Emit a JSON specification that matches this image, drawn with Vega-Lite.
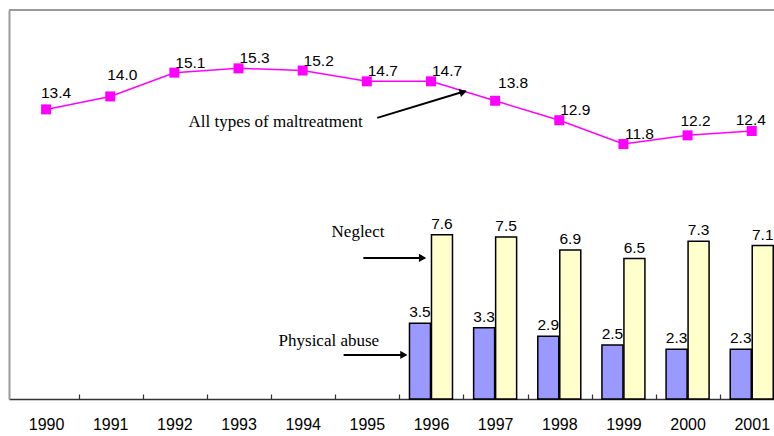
{
  "$schema": "https://vega.github.io/schema/vega-lite/v6.json",
  "width": 765,
  "height": 389,
  "autosize": {"type": "none"},
  "padding": {"left": 9, "top": 10, "right": 0, "bottom": 37},
  "background": "white",
  "config": {"view": {"stroke": null}},
  "datasets": {
    "main": [
      {"year": 1990, "all": 13.4, "physical": null, "neglect": null},
      {"year": 1991, "all": 14.0, "physical": null, "neglect": null},
      {"year": 1992, "all": 15.1, "physical": null, "neglect": null},
      {"year": 1993, "all": 15.3, "physical": null, "neglect": null},
      {"year": 1994, "all": 15.2, "physical": null, "neglect": null},
      {"year": 1995, "all": 14.7, "physical": null, "neglect": null},
      {"year": 1996, "all": 14.7, "physical": 3.5, "neglect": 7.6},
      {"year": 1997, "all": 13.8, "physical": 3.3, "neglect": 7.5},
      {"year": 1998, "all": 12.9, "physical": 2.9, "neglect": 6.9},
      {"year": 1999, "all": 11.8, "physical": 2.5, "neglect": 6.5},
      {"year": 2000, "all": 12.2, "physical": 2.3, "neglect": 7.3},
      {"year": 2001, "all": 12.4, "physical": 2.3, "neglect": 7.1}
    ],
    "frame": [{"top": 18}],
    "notes": [
      {"label": "All types of maltreatment", "x": 1993.577, "y": 12.59},
      {"label": "Neglect", "x": 1994.862, "y": 7.5},
      {"label": "Physical abuse", "x": 1994.408, "y": 2.45}
    ],
    "arrows": [
      {"x": 1995.162, "y": 13.01, "x2": 1996.54, "y2": 14.25},
      {"x": 1994.946, "y": 6.53, "x2": 1995.9, "y2": 6.53},
      {"x": 1994.638, "y": 2.04, "x2": 1995.6, "y2": 2.04}
    ],
    "heads_flat": [
      {"x": 1995.869, "y": 6.53},
      {"x": 1995.577, "y": 2.04}
    ],
    "heads_slant": [
      {"x": 1996.503, "y": 14.21}
    ]
  },
  "layer": [
    {
      "data": {"name": "main"},
      "transform": [{"filter": "datum.physical != null"}],
      "mark": {"type": "bar", "width": 21, "xOffset": -11, "fill": "#9999FF", "stroke": "black", "strokeWidth": 1.5},
      "encoding": {
        "x": {
          "field": "year",
          "type": "quantitative",
          "scale": {"domain": [1989.5, 2001.2692], "nice": false, "zero": false},
          "axis": {
            "title": null,
            "values": [1990, 1991, 1992, 1993, 1994, 1995, 1996, 1997, 1998, 1999, 2000, 2001],
            "format": "d",
            "tickOffset": 32.5,
            "labelOffset": -32.5,
            "tickSize": -5,
            "tickColor": "#333333",
            "tickWidth": 1.2,
            "domainColor": "#333333",
            "domainWidth": 1.5,
            "labelPadding": 22,
            "labelFont": "Liberation Sans",
            "labelFontSize": 16,
            "labelColor": "black",
            "labelFlush": false,
            "labelOverlap": false,
            "grid": false
          }
        },
        "y": {
          "field": "physical",
          "type": "quantitative",
          "scale": {"domain": [0, 18], "nice": false, "zero": true},
          "axis": {"title": null, "labels": false, "ticks": false, "grid": false, "domainColor": "#9a9a9a", "domainWidth": 2}
        }
      }
    },
    {
      "data": {"name": "frame"},
      "mark": {"type": "rule", "color": "#9a9a9a", "strokeWidth": 2},
      "encoding": {
        "y": {"field": "top", "type": "quantitative"}
      }
    },
    {
      "data": {"name": "main"},
      "transform": [{"filter": "datum.neglect != null"}],
      "mark": {"type": "bar", "width": 21, "xOffset": 11, "fill": "#FFFFCC", "stroke": "black", "strokeWidth": 1.5},
      "encoding": {
        "x": {"field": "year", "type": "quantitative"},
        "y": {"field": "neglect", "type": "quantitative"}
      }
    },
    {
      "data": {"name": "main"},
      "transform": [{"filter": "datum.physical != null"}],
      "mark": {"type": "text", "xOffset": -11, "dy": -6, "baseline": "alphabetic", "font": "Liberation Sans", "fontSize": 15.5, "color": "black"},
      "encoding": {
        "x": {"field": "year", "type": "quantitative"},
        "y": {"field": "physical", "type": "quantitative"},
        "text": {"field": "physical", "type": "quantitative", "format": ".1f"}
      }
    },
    {
      "data": {"name": "main"},
      "transform": [{"filter": "datum.neglect != null"}],
      "mark": {"type": "text", "xOffset": 11, "dy": -6, "baseline": "alphabetic", "font": "Liberation Sans", "fontSize": 15.5, "color": "black"},
      "encoding": {
        "x": {"field": "year", "type": "quantitative"},
        "y": {"field": "neglect", "type": "quantitative"},
        "text": {"field": "neglect", "type": "quantitative", "format": ".1f"}
      }
    },
    {
      "data": {"name": "main"},
      "mark": {"type": "line", "color": "#FF00FF", "strokeWidth": 1.5},
      "encoding": {
        "x": {"field": "year", "type": "quantitative"},
        "y": {"field": "all", "type": "quantitative"}
      }
    },
    {
      "data": {"name": "main"},
      "mark": {"type": "point", "shape": "square", "filled": true, "size": 100, "color": "#FF00FF", "opacity": 1},
      "encoding": {
        "x": {"field": "year", "type": "quantitative"},
        "y": {"field": "all", "type": "quantitative"}
      }
    },
    {
      "data": {"name": "main"},
      "transform": [{"filter": {"field": "year", "oneOf": [1992, 1993, 1994, 1995, 1996, 1998, 1999]}}],
      "mark": {"type": "text", "dx": 16, "dy": -5, "baseline": "alphabetic", "font": "Liberation Sans", "fontSize": 15.5, "color": "black"},
      "encoding": {
        "x": {"field": "year", "type": "quantitative"},
        "y": {"field": "all", "type": "quantitative"},
        "text": {"field": "all", "type": "quantitative", "format": ".1f"}
      }
    },
    {
      "data": {"name": "main"},
      "transform": [{"filter": {"field": "year", "oneOf": [1990]}}],
      "mark": {"type": "text", "dx": 10, "dy": -11, "baseline": "alphabetic", "font": "Liberation Sans", "fontSize": 15.5, "color": "black"},
      "encoding": {
        "x": {"field": "year", "type": "quantitative"},
        "y": {"field": "all", "type": "quantitative"},
        "text": {"field": "all", "type": "quantitative", "format": ".1f"}
      }
    },
    {
      "data": {"name": "main"},
      "transform": [{"filter": {"field": "year", "oneOf": [1991]}}],
      "mark": {"type": "text", "dx": 12, "dy": -16, "baseline": "alphabetic", "font": "Liberation Sans", "fontSize": 15.5, "color": "black"},
      "encoding": {
        "x": {"field": "year", "type": "quantitative"},
        "y": {"field": "all", "type": "quantitative"},
        "text": {"field": "all", "type": "quantitative", "format": ".1f"}
      }
    },
    {
      "data": {"name": "main"},
      "transform": [{"filter": {"field": "year", "oneOf": [1997]}}],
      "mark": {"type": "text", "dx": 18, "dy": -13, "baseline": "alphabetic", "font": "Liberation Sans", "fontSize": 15.5, "color": "black"},
      "encoding": {
        "x": {"field": "year", "type": "quantitative"},
        "y": {"field": "all", "type": "quantitative"},
        "text": {"field": "all", "type": "quantitative", "format": ".1f"}
      }
    },
    {
      "data": {"name": "main"},
      "transform": [{"filter": {"field": "year", "oneOf": [2000]}}],
      "mark": {"type": "text", "dx": 8, "dy": -9, "baseline": "alphabetic", "font": "Liberation Sans", "fontSize": 15.5, "color": "black"},
      "encoding": {
        "x": {"field": "year", "type": "quantitative"},
        "y": {"field": "all", "type": "quantitative"},
        "text": {"field": "all", "type": "quantitative", "format": ".1f"}
      }
    },
    {
      "data": {"name": "main"},
      "transform": [{"filter": {"field": "year", "oneOf": [2001]}}],
      "mark": {"type": "text", "dx": -1, "dy": -6, "baseline": "alphabetic", "font": "Liberation Sans", "fontSize": 15.5, "color": "black"},
      "encoding": {
        "x": {"field": "year", "type": "quantitative"},
        "y": {"field": "all", "type": "quantitative"},
        "text": {"field": "all", "type": "quantitative", "format": ".1f"}
      }
    },
    {
      "data": {"name": "notes"},
      "mark": {"type": "text", "baseline": "alphabetic", "align": "center", "font": "Liberation Serif", "fontSize": 17, "color": "black"},
      "encoding": {
        "x": {"field": "x", "type": "quantitative"},
        "y": {"field": "y", "type": "quantitative"},
        "text": {"field": "label"}
      }
    },
    {
      "data": {"name": "arrows"},
      "mark": {"type": "rule", "color": "black", "strokeWidth": 2},
      "encoding": {
        "x": {"field": "x", "type": "quantitative"},
        "y": {"field": "y", "type": "quantitative"},
        "x2": {"field": "x2"},
        "y2": {"field": "y2"}
      }
    },
    {
      "data": {"name": "heads_flat"},
      "mark": {"type": "point", "shape": "triangle-right", "filled": true, "size": 70, "color": "black", "opacity": 1},
      "encoding": {
        "x": {"field": "x", "type": "quantitative"},
        "y": {"field": "y", "type": "quantitative"}
      }
    },
    {
      "data": {"name": "heads_slant"},
      "mark": {"type": "point", "shape": "triangle-right", "filled": true, "size": 70, "angle": -16.5, "color": "black", "opacity": 1},
      "encoding": {
        "x": {"field": "x", "type": "quantitative"},
        "y": {"field": "y", "type": "quantitative"}
      }
    }
  ]
}
